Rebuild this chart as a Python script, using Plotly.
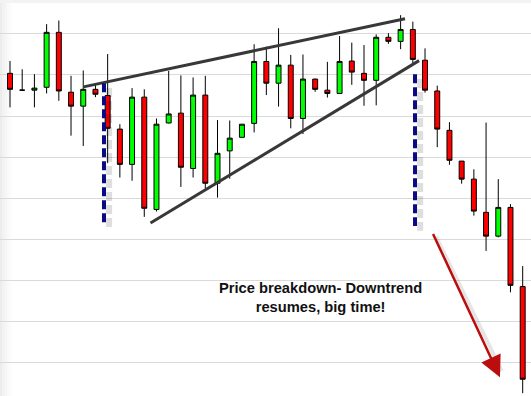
import plotly.graph_objects as go

# candle index (sessions)
sessions = list(range(43))
opens = [170.4, 166.3, 166.3, 167.0, 180.4, 165.8, 162.4, 166.5, 165.0, 156.8,
         148.2, 164.6, 137.2, 158.3, 160.7, 147.2, 165.1, 143.6, 151.5, 154.8,
         158.2, 173.3, 168.0, 172.4, 159.4, 169.0, 166.3, 165.5, 173.4, 170.4,
         168.7, 179.2, 178.2, 181.1, 173.6, 166.1, 156.5, 149.0, 144.6, 136.5,
         130.7, 137.7, 118.4]
highs = [173.4, 171.4, 170.2, 182.4, 183.3, 169.8, 171.1, 168.0, 175.1, 158.0,
         166.8, 166.5, 159.4, 171.0, 169.9, 169.4, 169.8, 159.0, 158.9, 158.0,
         177.5, 176.9, 181.4, 174.9, 175.0, 169.1, 173.2, 179.5, 177.9, 177.3,
         179.9, 180.2, 184.6, 183.0, 176.5, 167.4, 158.5, 149.0, 147.0, 158.4,
         144.6, 138.5, 123.4]
lows = [162.1, 166.2, 162.1, 165.5, 163.7, 155.2, 152.7, 164.6, 148.5, 145.0,
        144.2, 135.4, 136.7, 158.2, 142.7, 145.0, 142.3, 140.1, 144.7, 154.8,
        156.0, 165.1, 162.3, 157.0, 155.6, 165.9, 164.5, 165.4, 167.6, 162.5,
        162.6, 177.6, 176.3, 172.4, 165.7, 152.4, 148.1, 143.5, 135.7, 127.1,
        130.4, 117.0, 92.4]
closes = [166.5, 166.3, 166.8, 180.4, 166.1, 162.4, 166.5, 165.3, 157.0, 148.2,
          164.6, 137.5, 158.0, 160.5, 147.5, 165.1, 143.6, 150.9, 154.6, 158.0,
          173.3, 168.0, 172.4, 159.4, 169.0, 166.5, 165.5, 173.3, 170.7, 168.7,
          179.2, 178.2, 181.1, 173.8, 166.3, 156.8, 149.2, 144.6, 136.8, 130.7,
          137.7, 118.7, 95.8]

# overlay drawing values (pattern annotations)
upper_trend = [(6.02, 167.1), (32.36, 183.7)]
lower_trend = [(11.51, 133.9), (33.51, 173.5)]
breakout_lines = [(7.70, 168.0, 134.1), (33.18, 170.2, 133.2)]
arrow_from = (34.6, 131.6)
arrow_to = (40.14, 96.3)
note_text = "Price breakdown- Downtrend<br>resumes, big time!"

X_RANGE = [-0.819, 42.681]
Y_RANGE = [91.71, 188.29]

fig = go.Figure()
fig.add_trace(go.Candlestick(
    x=sessions, open=opens, high=highs, low=lows, close=closes,
    increasing=dict(fillcolor="#00ff00", line=dict(color="#000000", width=1)),
    decreasing=dict(fillcolor="#ff0000", line=dict(color="#000000", width=1)),
    whiskerwidth=0, hoverinfo="skip", showlegend=False,
))

shapes = []
# soft edge shading (left and top)
for i, c in enumerate(["#ececec", "#f1f1f1", "#f5f5f5", "#f9f9f9", "#fcfcfc"]):
    shapes.append(dict(type="rect", xref="paper", yref="paper",
                       x0=i * 2.4 / 531, x1=(i + 1) * 2.4 / 531, y0=0, y1=1,
                       fillcolor=c, line=dict(width=0), layer="below"))
shapes.append(dict(type="rect", xref="paper", yref="paper", x0=0, x1=1,
                   y0=1 - 3 / 396, y1=1, fillcolor="#f3f3f3",
                   line=dict(width=0), layer="below"))

# trend lines (wedge)
for (xa, ya), (xb, yb) in [upper_trend, lower_trend]:
    shapes.append(dict(type="line", xref="x", yref="y", x0=xa, y0=ya, x1=xb, y1=yb,
                       line=dict(color="#383838", width=3)))

# dashed breakout lines with shadow
for xv, ytop, ybot in breakout_lines:
    shapes.append(dict(type="line", xref="x", yref="y", x0=xv + 0.42, x1=xv + 0.42,
                       y0=ytop - 1.2, y1=ybot - 1.2,
                       line=dict(color="rgba(0,0,0,0.13)", width=6, dash="9px,4px")))
    shapes.append(dict(type="line", xref="x", yref="y", x0=xv, x1=xv, y0=ytop, y1=ybot,
                       line=dict(color="#0a0a85", width=4, dash="9px,4px")))

# arrow shadow
shapes.append(dict(type="line", xref="x", yref="y",
                   x0=arrow_from[0] + 0.3, y0=arrow_from[1] - 1.0,
                   x1=arrow_to[0] + 0.15, y1=arrow_to[1] + 1.5,
                   line=dict(color="rgba(0,0,0,0.10)", width=4)))

annotations = [
    dict(x=arrow_to[0], y=arrow_to[1], ax=arrow_from[0], ay=arrow_from[1],
         xref="x", yref="y", axref="x", ayref="y", text="", showarrow=True,
         arrowhead=2, arrowsize=1.7, arrowwidth=2.5, arrowcolor="#bb0d0d"),
    dict(x=320 / 531, y=1 - 297 / 396, xref="paper", yref="paper",
         text=f"<b>{note_text}</b>", showarrow=False, align="center",
         xanchor="center", yanchor="middle",
         font=dict(family="Liberation Sans, Arial, sans-serif", size=14.7, color="#111111")),
]

fig.update_layout(
    width=531, height=396, margin=dict(l=0, r=0, t=0, b=0),
    paper_bgcolor="#ffffff", plot_bgcolor="#ffffff",
    boxgap=0.42, shapes=shapes, annotations=annotations, showlegend=False,
    xaxis=dict(range=X_RANGE, showgrid=False, zeroline=False, showticklabels=False,
               showline=False, ticks="", rangeslider=dict(visible=False), fixedrange=True),
    yaxis=dict(range=Y_RANGE, showgrid=True, gridcolor="#dadada", gridwidth=1,
               dtick=10, tick0=100, zeroline=False, showticklabels=False,
               showline=False, ticks="", fixedrange=True),
)

fig.write_html("out.html", config={"displayModeBar": False},
               post_script="document.body.style.margin='0';document.body.style.overflow='hidden';")
